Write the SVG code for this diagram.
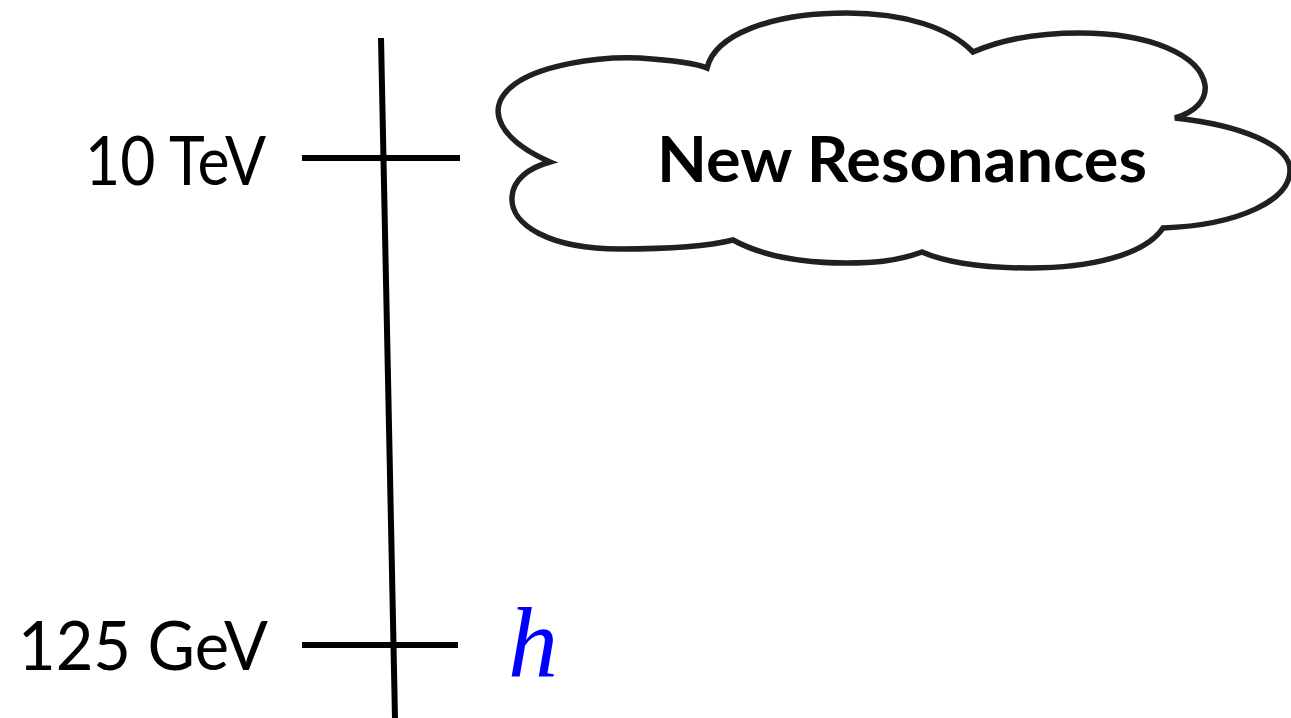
<svg xmlns="http://www.w3.org/2000/svg" width="1291" height="718" viewBox="0 0 1291 718">
<style>
.axis{stroke:#000;stroke-width:6;fill:none}
.tick{stroke:#000;stroke-width:6;fill:none}
.lbl{font-family:Lato,"Open Sans",sans-serif;font-size:68px;fill:#000}
.cloud{fill:#fff;stroke:#231f20;stroke-width:5.5}
.ctext{font-family:Lato,"Open Sans",sans-serif;font-weight:bold;font-size:63px;fill:#000}
</style>
<rect width="1291" height="718" fill="#fff"/>
<g id="connectors">
<line class="axis" x1="381" y1="38" x2="395" y2="718"/>
<line class="tick" x1="302" y1="158" x2="460" y2="158"/>
<line class="tick" x1="302" y1="645" x2="458" y2="645"/>
</g>
<g id="label-10tev"><text class="lbl" x="85" y="185" textLength="181" lengthAdjust="spacingAndGlyphs">10 TeV</text></g>
<g id="label-125gev"><text class="lbl" x="18" y="670" textLength="250" lengthAdjust="spacingAndGlyphs">125 GeV</text></g>
<g id="higgs"><text x="508" y="676" font-family="Liberation Serif,serif" font-style="italic" font-size="100" fill="#0000ff">h</text></g>
<g id="cloud">
<path class="cloud" d="M550,162 C500,140 485,110 510,88 C535,65 600,56 640,58 C670,60 695,63 707,68 C715,35 770,13 847,13 C905,13 950,28 973,52 C1005,38 1040,33 1080,33 C1150,33 1200,55 1205,85 C1207,100 1195,112 1175,118 C1240,125 1290,145 1290,170 C1290,200 1240,225 1163,228 C1145,255 1090,268 1030,268 C980,268 945,262 922,252 C895,262 870,263 847,263 C790,263 755,252 733,240 C705,247 665,249 620,249 C550,249 510,225 512,197 C513,180 528,168 550,162 Z"/>
<text class="ctext" x="657" y="182" textLength="490" lengthAdjust="spacingAndGlyphs">New Resonances</text>
</g>
</svg>
